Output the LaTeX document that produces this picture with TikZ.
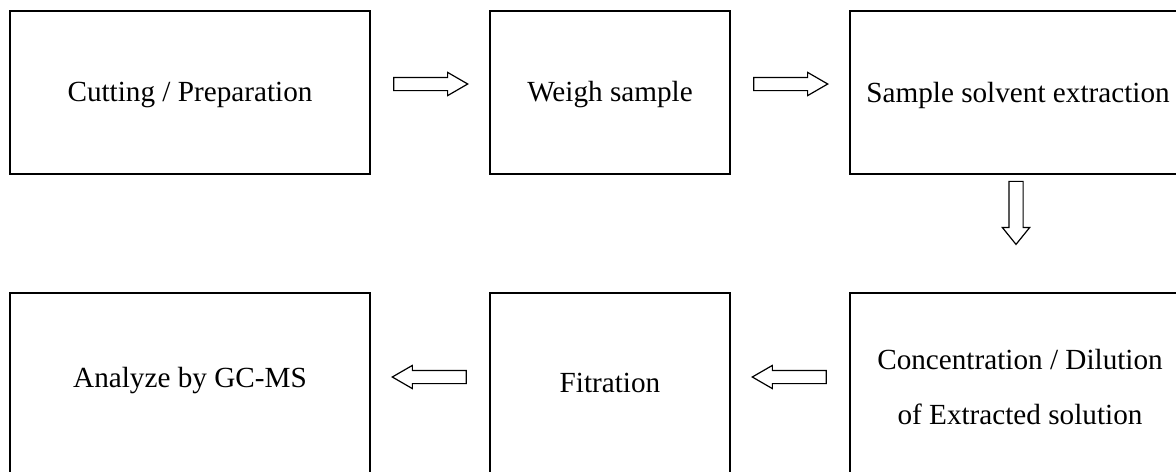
\documentclass[tikz,border=0pt]{standalone}
\usepackage{fontspec}
\setmainfont{Liberation Serif}
\usetikzlibrary{positioning, shapes.arrows}
\tikzset{
	stepbox/.style={
		draw,
		line width=1pt,
		inner sep=0pt,
		minimum height=81.5pt,
	},
	steptext/.style={
		align=center,
		inner sep=0pt,
		font={\fontsize{14.6}{27.5}\selectfont},
	},
	flow/.style={
		single arrow,
		draw,
		line width=0.6pt,
		inner sep=3pt,
		minimum height=37pt,
		minimum width=11pt,
		single arrow head extend=2.5pt,
		single arrow tip angle=60,
	},
}

\begin{document}
\begin{tikzpicture}[x=0.5pt, y=-0.5pt]
	\clip (0,0) rectangle (1176,471);
	% top row
	\node[stepbox, minimum width=180pt](cut) at (190,92.5) {};
	\node[stepbox, minimum width=120pt](wei) at (610,92.5) {};
	\node[stepbox, minimum width=170pt](ext) at (1020,92.5) {};
	\node[steptext](cutt) at (190,95) {Cutting / Preparation};
	\node[steptext](weit) at (610,95) {Weigh sample};
	\node[steptext](extt) at (1018,95) {Sample solvent extraction};
	% bottom row, runs past the lower edge
	\node[stepbox, minimum width=180pt, minimum height=113.5pt](ana) at (190,406.5) {};
	\node[stepbox, minimum width=120pt, minimum height=113.5pt](fit) at (610,406.5) {};
	\node[stepbox, minimum width=170pt, minimum height=113.5pt](con) at (1020,406.5) {};
	\node[steptext](anat) at (190,381) {Analyze by GC-MS};
	\node[steptext](fitt) at (610,383) {Fitration};
	\node[steptext](cont) at (1020,387) {Concentration / Dilution\\of Extracted solution};
	
	\path (cut.east) -- (wei.west) node[flow,midway,xshift=-2.5pt,yshift=4.25pt]{};
	\path (wei.east) -- (ext.west) node[flow,midway,xshift=-2.5pt,yshift=4.25pt]{};
	\path (ext.south) -- (con.north) node[flow,midway,shape border rotate=270,
		inner sep=3.25pt,minimum height=31.5pt,minimum width=13pt,
		single arrow head extend=3.25pt,single arrow tip angle=78,
		xshift=-2pt,yshift=12.5pt]{};
	\path (con.west) -- (fit.east) node[flow,midway,shape border rotate=180,xshift=2.5pt,yshift=14.75pt]{};
	\path (fit.west) -- (ana.east) node[flow,midway,shape border rotate=180,xshift=2.5pt,yshift=14.75pt]{};
\end{tikzpicture}
\end{document}
